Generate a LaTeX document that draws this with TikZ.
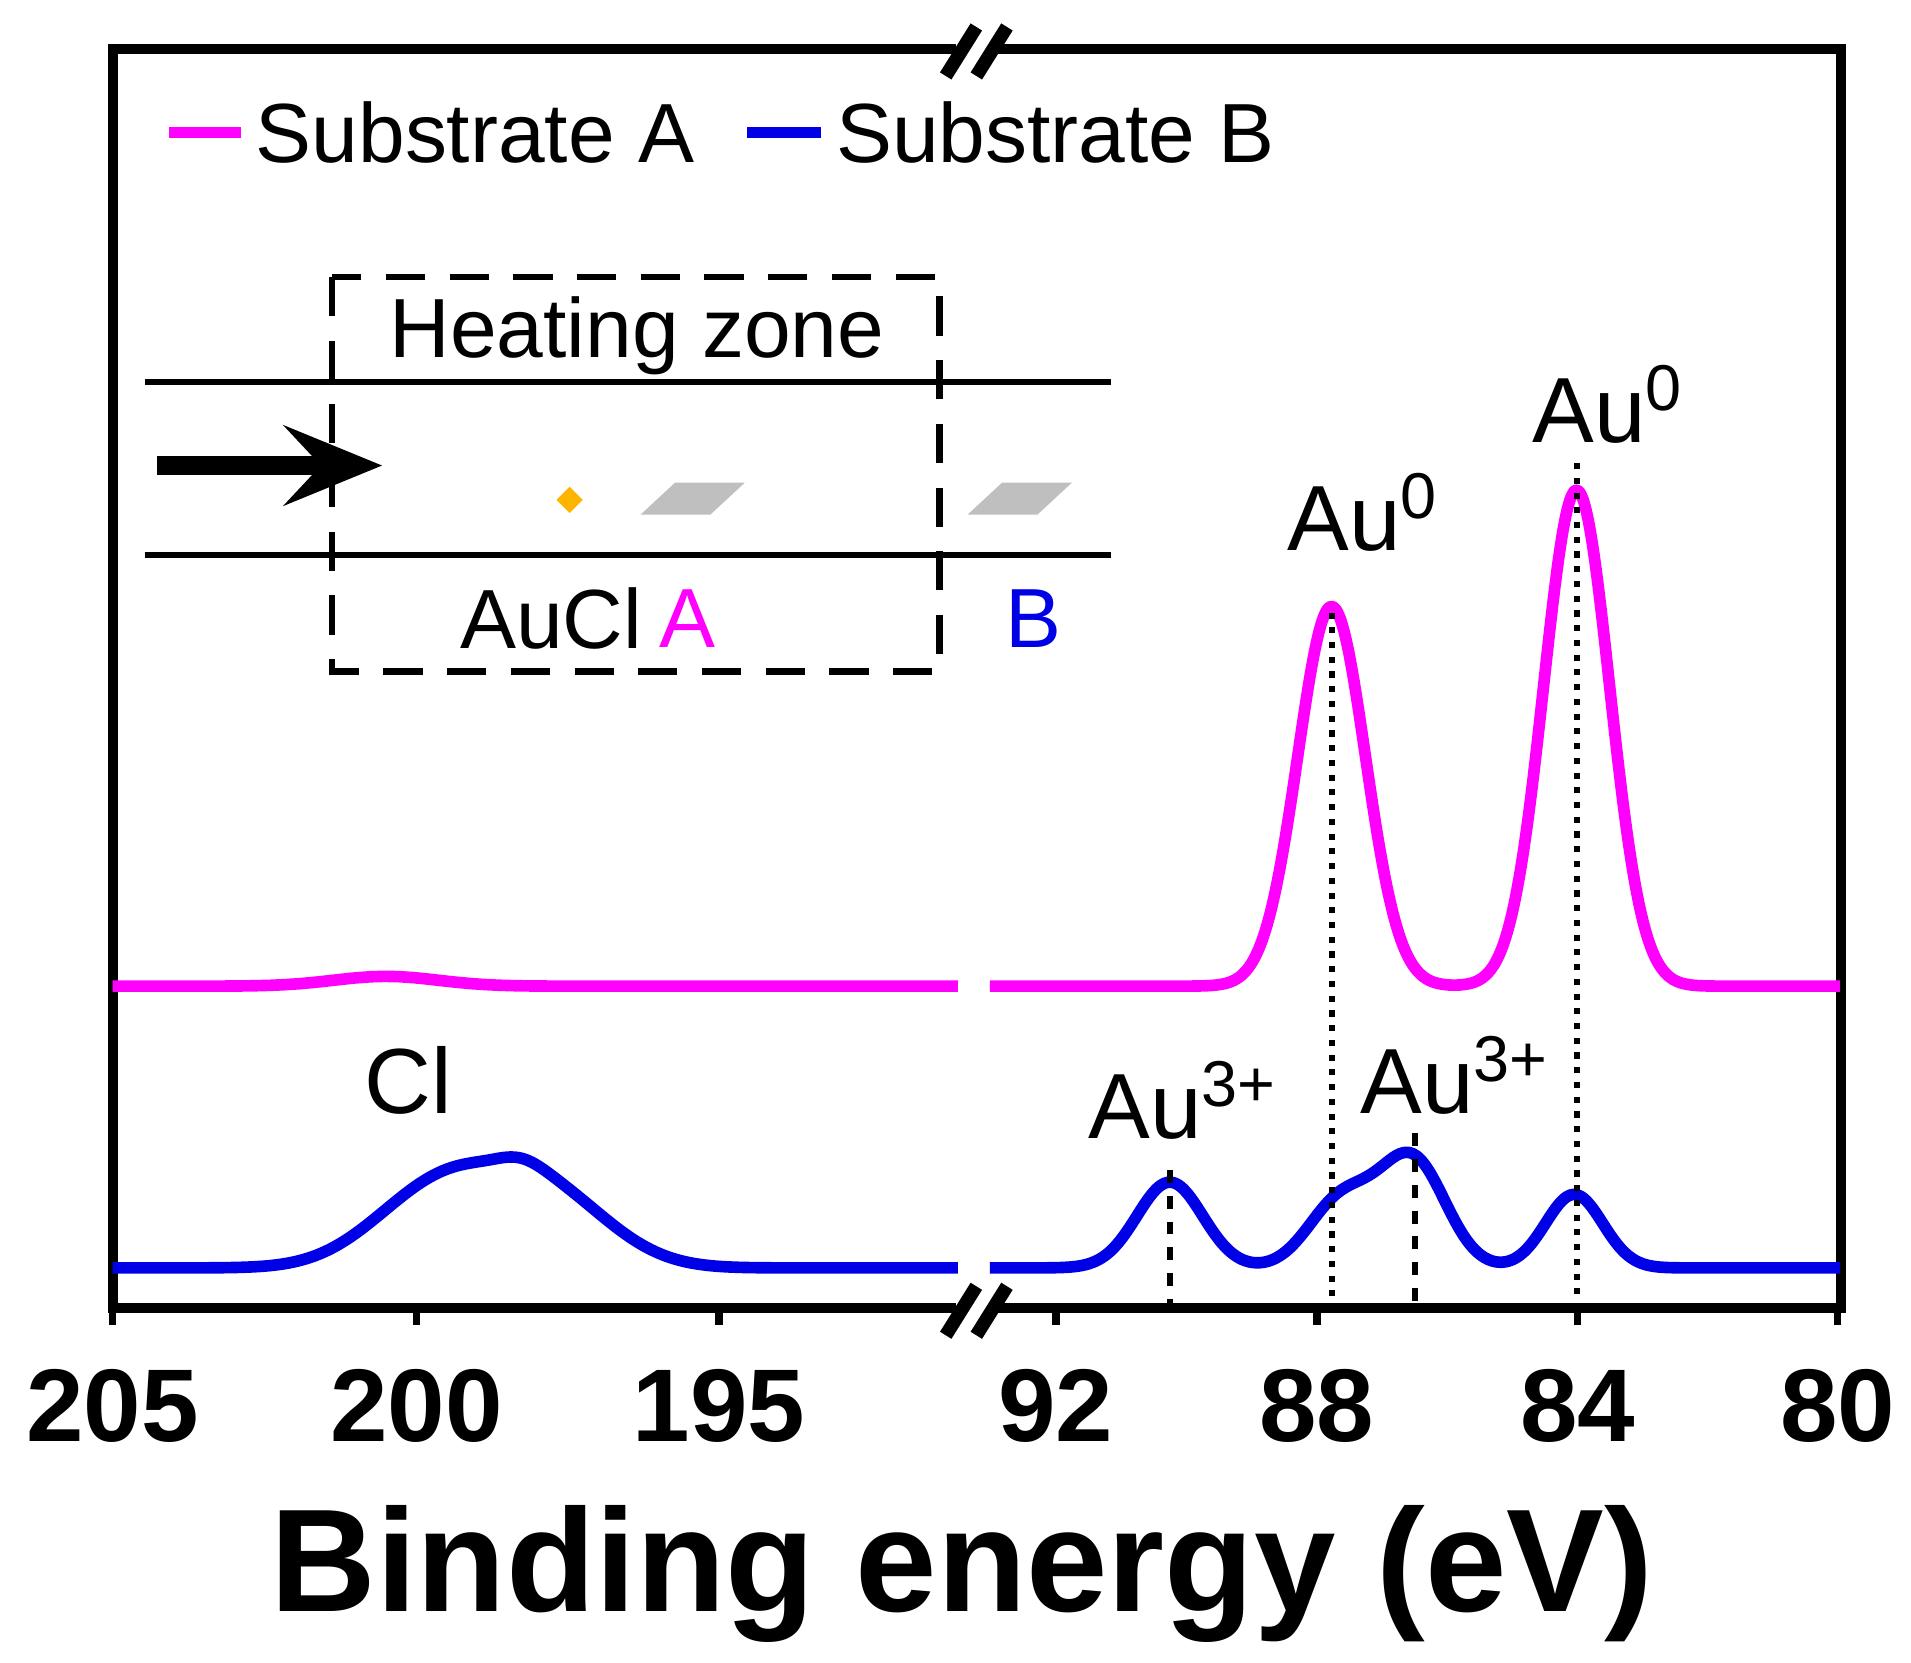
\documentclass[tikz,border=0pt]{standalone}
\usepackage{fontspec}
\setmainfont{Liberation Sans}
\usetikzlibrary{arrows.meta,shapes.geometric}
\definecolor{pinkc}{RGB}{255,0,255}
\definecolor{bluec}{RGB}{0,0,230}
\definecolor{orangec}{RGB}{255,180,0}
\tikzset{
 ax/.style={line width=0.8mm},
 curve/.style={line width=0.95mm,line join=round},
 lab/.style={font=\fontsize{21.5}{24}\selectfont,inner sep=0pt},
 tick/.style={font=\fontsize{24}{28}\selectfont\bfseries,inner sep=0pt},
 leg/.style={font=\fontsize{19.5}{22}\selectfont,inner sep=0pt,anchor=west},
}
\begin{document}
\begin{tikzpicture}[x=0.1mm,y=-0.1mm]
\useasboundingbox (0,0) rectangle (1560,1357);
% axes box with breaks
\draw[ax] (780,40) -- (92,40) -- (92,1068) -- (780,1068);
\draw[ax] (810,40) -- (1503,40) -- (1503,1068) -- (810,1068);
\foreach \xx in {772,797}{
 \draw[line width=1.1mm] (\xx,62) -- (\xx+25,22);
 \draw[line width=1.1mm] (\xx,1090) -- (\xx+25,1050);}
% ticks
\foreach \xx/\t in {92/205,340/200,587/195,862/92,1075/88,1288/84,1500/80}{
 \draw[line width=0.6mm] (\xx,1068) -- (\xx,1082);
 \node[tick] (t\t) at (\xx,1148) {\t};}
\node[font=\fontsize{34}{40}\selectfont\bfseries,inner sep=0pt] (xl) at (785,1285) {Binding energy (eV)};
% curves
\draw[curve,pinkc] plot[domain=92:782,samples=60] (\x,{805-8*exp(-((\x-315)/60)^2)});
\draw[curve,pinkc] plot[domain=808:1502,samples=200,smooth] (\x,{805-310*exp(-((\x-1087)/39)^2)-405*exp(-((\x-1287)/38)^2)});
\draw[curve,bluec] plot[domain=92:782,samples=150,smooth] (\x,{1035-86*exp(-(abs(\x-400)/105)^2.5)-6*exp(-((\x-425)/25)^2)});
\draw[curve,bluec] plot[domain=808:1502,samples=250,smooth] (\x,{1035-70*exp(-((\x-955)/38)^2)-55*exp(-((\x-1095)/38)^2)-88*exp(-((\x-1153)/38)^2)-60*exp(-((\x-1285)/33)^2)});
% guide lines
\draw[line width=0.5mm,dotted] (1087,500) -- (1087,1065);
\draw[line width=0.5mm,dotted] (1287,378) -- (1287,1058);
\draw[line width=0.5mm,dashed] (955,955) -- (955,1065);
\draw[line width=0.5mm,dashed] (1155,925) -- (1155,1065);
% labels
\node[lab] (a0a) at (1113,418) {Au\textsuperscript{0}};
\node[lab] (a0b) at (1313,330) {Au\textsuperscript{0}};
\node[lab] (a3a) at (966,898) {Au\textsuperscript{3+}};
\node[lab] (a3b) at (1188,878) {Au\textsuperscript{3+}};
\node[lab] (cl) at (333,882) {Cl};
% legend
\draw[curve,pinkc] (138,108) -- (197,108);
\node[leg] (la) at (208,108) {Substrate A};
\draw[curve,bluec] (610,108) -- (670,108);
\node[leg] (lb) at (682,108) {Substrate B};
% inset
\draw[line width=0.5mm] (118,312) -- (907,312);
\draw[line width=0.5mm] (118,453) -- (907,453);
\draw[line width=0.55mm,dashed,dash pattern=on 3.2mm off 2mm] (271,226) rectangle (767,548);
\node[font=\fontsize{19.5}{22}\selectfont,inner sep=0pt] (hz) at (520,274) {Heating zone};
\draw[line width=1.6mm,-{Stealth[length=8mm,width=6.5mm,inset=3mm]}] (128,380) -- (312,380);
\node[fill=orangec,diamond,inner sep=0pt,minimum size=2.2mm,draw=none] (src) at (465,408) {};
\fill[gray!50] (523,420) -- (580,420) -- (608,394) -- (551,394) -- cycle;
\fill[gray!50] (790,420) -- (847,420) -- (875,394) -- (818,394) -- cycle;
\node[leg] (aucl) at (375,505) {AuCl};
\node[leg,text=pinkc] (ia) at (538,505) {A};
\node[leg,text=bluec] (ib) at (820,505) {B};
\end{tikzpicture}
\end{document}
